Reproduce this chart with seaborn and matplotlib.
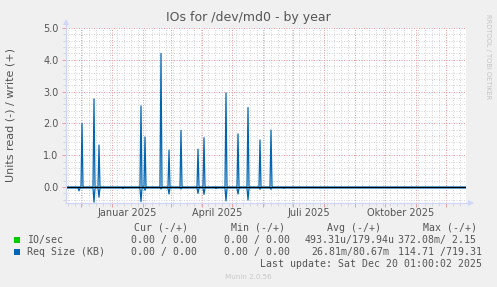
import matplotlib
matplotlib.use("Agg")
import matplotlib.pyplot as plt
import seaborn as sns
import numpy as np
import pandas as pd

# ---------------- data ----------------
range_start = "2024-11-16"
range_end = "2025-12-21"

write_dates = ["2024-12-02", "2024-12-14", "2024-12-19", "2025-01-30", "2025-02-03",
               "2025-02-19", "2025-02-27", "2025-03-11", "2025-03-28", "2025-04-03",
               "2025-04-25", "2025-05-07", "2025-05-17", "2025-05-29", "2025-06-09"]
write_values = [2.00, 2.77, 1.32, 2.55, 1.57,
                4.20, 1.16, 1.78, 1.19, 1.55,
                2.96, 1.67, 2.50, 1.48, 1.79]

read_dates = ["2024-11-29", "2024-12-14", "2024-12-19", "2025-01-12", "2025-01-30",
              "2025-02-03", "2025-02-19", "2025-02-27", "2025-03-11", "2025-03-28",
              "2025-04-03", "2025-04-15", "2025-04-25", "2025-05-07", "2025-05-17",
              "2025-05-29", "2025-06-09", "2025-06-22", "2025-09-24", "2025-10-06",
              "2025-10-13", "2025-10-23", "2025-11-03", "2025-11-08", "2025-11-22",
              "2025-11-28", "2025-12-17"]
read_values = [0.12, 0.48, 0.32, 0.05, 0.46,
               0.10, 0.06, 0.22, 0.06, 0.20,
               0.23, 0.05, 0.44, 0.22, 0.41,
               0.07, 0.07, 0.04, 0.03, 0.03,
               0.03, 0.03, 0.03, 0.03, 0.03,
               0.03, 0.03]
write_baseline = 0.0
read_baseline = 0.03

month_label_dates = ["2025-01-16 12:00", "2025-04-16 12:00", "2025-07-16 12:00", "2025-10-16 12:00"]
month_labels = ["Januar 2025", "April 2025", "Juli 2025", "Oktober 2025"]
y_ticks = [0.0, 1.0, 2.0, 3.0, 4.0, 5.0]

title = "IOs for /dev/md0 - by year"
y_label = "Units read (-) / write (+)"
legend_headers = ["Cur (-/+)", "Min (-/+)", "Avg (-/+)", "Max (-/+)"]
series_names = ["IO/sec", "Req Size (KB)"]
series_colors = ["#00CC00", "#0066B3"]
cur_text = ["0.00 / 0.00", "0.00 / 0.00"]
min_text = ["0.00 / 0.00", "0.00 / 0.00"]
avg_text = ["493.31u/179.94u", "26.81m/80.67m"]
max_text = ["372.08m/ 2.15", "114.71 /719.31"]
last_update = "Last update: Sat Dec 20 01:00:02 2025"
footer = "Munin 2.0.56"
watermark = "RRDTOOL / TOBI OETIKER"

# ---------------- build table ----------------
days = pd.date_range(range_start, range_end, freq="D")
df = pd.DataFrame({"date": days})
w = pd.Series(write_values, index=pd.to_datetime(write_dates))
r = pd.Series(read_values, index=pd.to_datetime(read_dates))
df["write"] = w.reindex(df["date"]).fillna(write_baseline).values
df["read_neg"] = -r.reindex(df["date"]).fillna(read_baseline).values

# ---------------- figure ----------------
W, H = 497, 287
fig = plt.figure(figsize=(W / 100, H / 100), dpi=100)
fig.patch.set_facecolor("#F0F0F0")
ax = fig.add_axes([66 / W, (H - 203) / H, 400 / W, 175 / H])
ax.set_facecolor("#FFFFFF")

fg = "#555555"
axc = "#CFD6F8"
mgrid = "#E9A0A0"
grid = "#D6D6D6"

x0, x1 = pd.Timestamp(range_start), pd.Timestamp(range_end)
ax.set_xlim(x0, x1)
ax.set_ylim(-0.503, 5.0)

# grid
month_starts = pd.date_range("2024-12-01", range_end, freq="MS")
weeks = pd.date_range("2024-11-18", range_end, freq="7D")
ax.set_xticks(month_starts)
ax.set_xticks(weeks, minor=True)
ax.set_xticklabels([])
ax.set_yticks(y_ticks)
ax.set_yticklabels([f"{v:.1f}" for v in y_ticks])
ax.set_yticks(np.arange(-0.4, 5.0, 0.2), minor=True)
ax.grid(which="minor", color=grid, lw=0.72, ls=(0, (1, 1.5)))
ax.grid(which="major", color=mgrid, lw=0.72, ls=(0, (1, 1.5)))
ax.set_axisbelow(True)
ax.tick_params(axis="both", which="major", length=3, width=0.72, color=mgrid,
               labelsize=7, labelcolor=fg, pad=2.5)
ax.tick_params(axis="both", which="minor", length=2, width=0.72, color=grid)
for s in ["top", "right", "left", "bottom"]:
    ax.spines[s].set_visible(False)

# data
sns.lineplot(data=df, x="date", y="read_neg", ax=ax, color=series_colors[1], lw=0.9,
             legend=False, zorder=2)
sns.lineplot(data=df, x="date", y="write", ax=ax, color=series_colors[1], lw=0.9,
             legend=False, zorder=2)
ax.axhline(0, color="black", lw=0.8, zorder=3)
ax.set_xlabel("")
ax.set_ylabel("")

# axes with arrows
ax.plot([0, 0], [0, 1.03], transform=ax.transAxes, color=axc, lw=0.9, clip_on=False, zorder=4)
ax.plot([0, 1.01], [0, 0], transform=ax.transAxes, color=axc, lw=0.9, clip_on=False, zorder=4)
ax.plot([0], [1.035], marker="^", ms=4.5, color=axc, transform=ax.transAxes, clip_on=False, mew=0)
ax.plot([1.0125], [0], marker=">", ms=4.5, color=axc, transform=ax.transAxes, clip_on=False, mew=0)

# month labels
for d, lab in zip(month_label_dates, month_labels):
    ax.text(pd.Timestamp(d), -0.055, lab, transform=ax.get_xaxis_transform(),
            ha="center", va="center", fontsize=7, color=fg)

# texts
def px(x, y):
    return x / W, 1 - y / H

fig.text(*px(248.5, 18), title, ha="center", va="center", fontsize=9, color=fg)
fig.text(*px(11, 115.5), y_label, ha="center", va="center", rotation=90, fontsize=8, color=fg)
fig.text(*px(488, 57), watermark, ha="center", va="center", rotation=270, fontsize=4.8,
         color="#C4C4C4")

mono = "DejaVu Sans Mono"
fs = 7.1
for xpos, t in zip([134, 231, 327, 423], legend_headers):
    fig.text(*px(xpos, 227.7), t, ha="left", va="center", fontsize=fs, family=mono, color=fg)

rows_y = [239.5, 251.7]
avg_x = [304.5, 311.7]
for i, yy in enumerate(rows_y):
    fig.patches.append(plt.Rectangle(px(14, yy + 3), 6 / W, 6 / H, transform=fig.transFigure,
                                     facecolor=series_colors[i], edgecolor="none"))
    fig.text(*px(26.7, yy), series_names[i], ha="left", va="center", fontsize=fs, family=mono, color=fg)
    fig.text(*px(131, yy), cur_text[i], ha="left", va="center", fontsize=fs, family=mono, color=fg)
    fig.text(*px(224.3, yy), min_text[i], ha="left", va="center", fontsize=fs, family=mono, color=fg)
    fig.text(*px(avg_x[i], yy), avg_text[i], ha="left", va="center", fontsize=fs, family=mono, color=fg)
    fig.text(*px(398.3, yy), max_text[i], ha="left", va="center", fontsize=fs, family=mono, color=fg)

fig.text(*px(482.3, 263.7), last_update, ha="right", va="center", fontsize=fs, family=mono, color=fg)
fig.text(*px(248, 276.7), footer, ha="center", va="center", fontsize=5.1, color="#C8C8C8")

fig.savefig("out.png", dpi=100, facecolor=fig.get_facecolor())
